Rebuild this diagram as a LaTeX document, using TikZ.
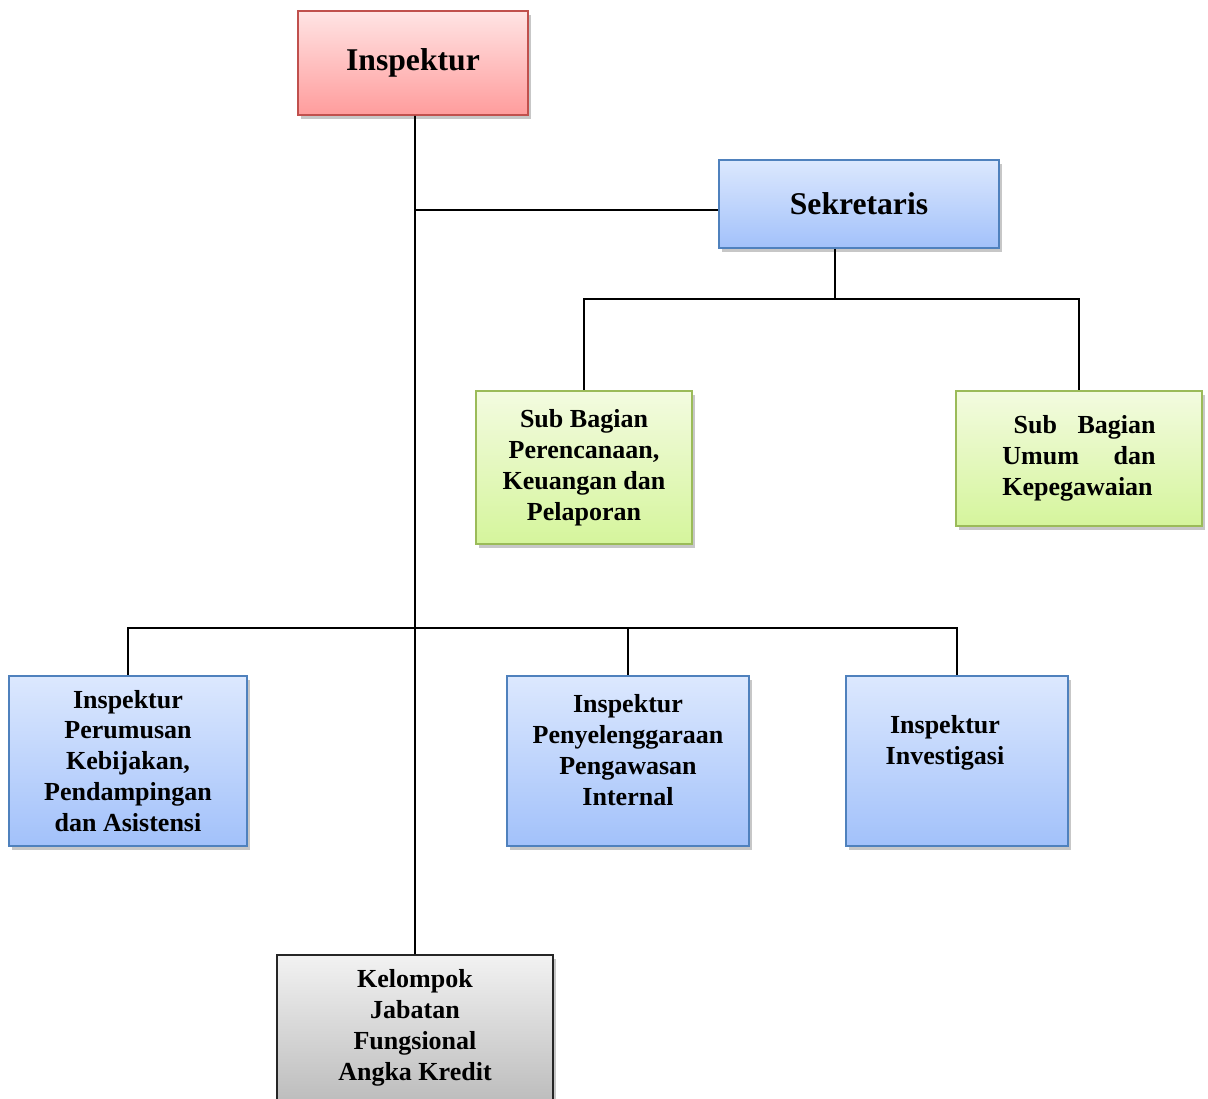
\documentclass[tikz,border=0pt]{standalone}
\usepackage{fontspec}
\setmainfont{Liberation Serif}
\usetikzlibrary{positioning,shadows}

\definecolor{redtop}{HTML}{FFE4E4}
\definecolor{redbot}{HTML}{FF9C9C}
\definecolor{redline}{HTML}{C0504D}
\definecolor{bluetop}{HTML}{DCE8FE}
\definecolor{bluebot}{HTML}{A2C1FA}
\definecolor{blueline}{HTML}{4F81BD}
\definecolor{greentop}{HTML}{F3FBE0}
\definecolor{greenbot}{HTML}{D5F59C}
\definecolor{greenline}{HTML}{9BBB59}
\definecolor{graytop}{HTML}{F2F2F2}
\definecolor{graybot}{HTML}{BDBDBD}

\begin{document}
\begin{tikzpicture}[
  x=0.025cm, y=-0.025cm,
  unit/.style={draw, line width=1.3pt, align=center, inner sep=2pt,
               font=\fontsize{18.5}{22}\selectfont\bfseries,
               drop shadow={shadow xshift=2pt, shadow yshift=-2.5pt, fill=black, opacity=0.22}},
  head/.style={unit, font=\fontsize{22.5}{26}\selectfont\bfseries},
  redbox/.style={draw=redline, top color=redtop, bottom color=redbot},
  bluebox/.style={draw=blueline, top color=bluetop, bottom color=bluebot},
  greenbox/.style={draw=greenline, top color=greentop, bottom color=greenbot},
  graybox/.style={draw=black!85, top color=graytop, bottom color=graybot},
  link/.style={line width=1.3pt}
]
  \useasboundingbox (0,0) rectangle (1208,1098);

  \node[head, redbox, minimum width=5.75cm, minimum height=2.6cm]   (insp) at (413,63)
      {\raisebox{-4pt}{Inspektur}};
  \node[head, bluebox, minimum width=7cm, minimum height=2.2cm]     (sek)  at (859,204) {Sekretaris};

  \node[unit, greenbox, minimum width=5.4cm, minimum height=3.825cm] (spk) at (584,467.5)
      {Sub Bagian\\Perencanaan,\\Keuangan dan\\Pelaporan};
  \node[unit, greenbox, minimum width=6.15cm, minimum height=3.375cm] (sum) at (1079,458.5)
      {\makebox[3.83cm][s]{\hspace*{0.28cm}Sub Bagian}\\
       \makebox[3.83cm][s]{Umum dan}\\
       \makebox[3.83cm][l]{Kepegawaian}};

  \node[unit, bluebox, minimum width=5.95cm, minimum height=4.25cm] (pk) at (128,761)
      {Inspektur\\Perumusan\\Kebijakan,\\Pendampingan\\dan Asistensi};
  \node[unit, bluebox, minimum width=6.05cm, minimum height=4.25cm] (pw) at (628,761)
      {Inspektur\\Penyelenggaraan\\Pengawasan\\Internal\\[-6pt]\mbox{}};
  \node[unit, bluebox, minimum width=5.55cm, minimum height=4.25cm] (iv) at (957,761)
      {Inspektur\hspace*{0.6cm}\mbox{}\\Investigasi\hspace*{0.6cm}\mbox{}\\[8pt]\mbox{}};

  \node[unit, graybox, minimum width=6.9cm, minimum height=3.65cm] (kel) at (415,1028)
      {Kelompok\\Jabatan\\Fungsional\\Angka Kredit};

  % trunk and branches
  \draw[link] ([xshift=0.05cm]insp.south) -- (kel.north);
  \draw[link] ([yshift=-0.15cm]sek.west) -- ([yshift=-0.15cm]sek.west -| kel.north);

  \coordinate (sekbus) at (835,299);
  \draw[link] (sek.south -| sekbus) -- (sekbus);
  \draw[link] (sekbus) -| (spk.north);
  \draw[link] (sekbus) -| (sum.north);

  \coordinate (insbus) at (415,628);
  \draw[link] (insbus) -| (pk.north);
  \draw[link] (insbus) -| (pw.north);
  \draw[link] (insbus) -| (iv.north);
\end{tikzpicture}
\end{document}
